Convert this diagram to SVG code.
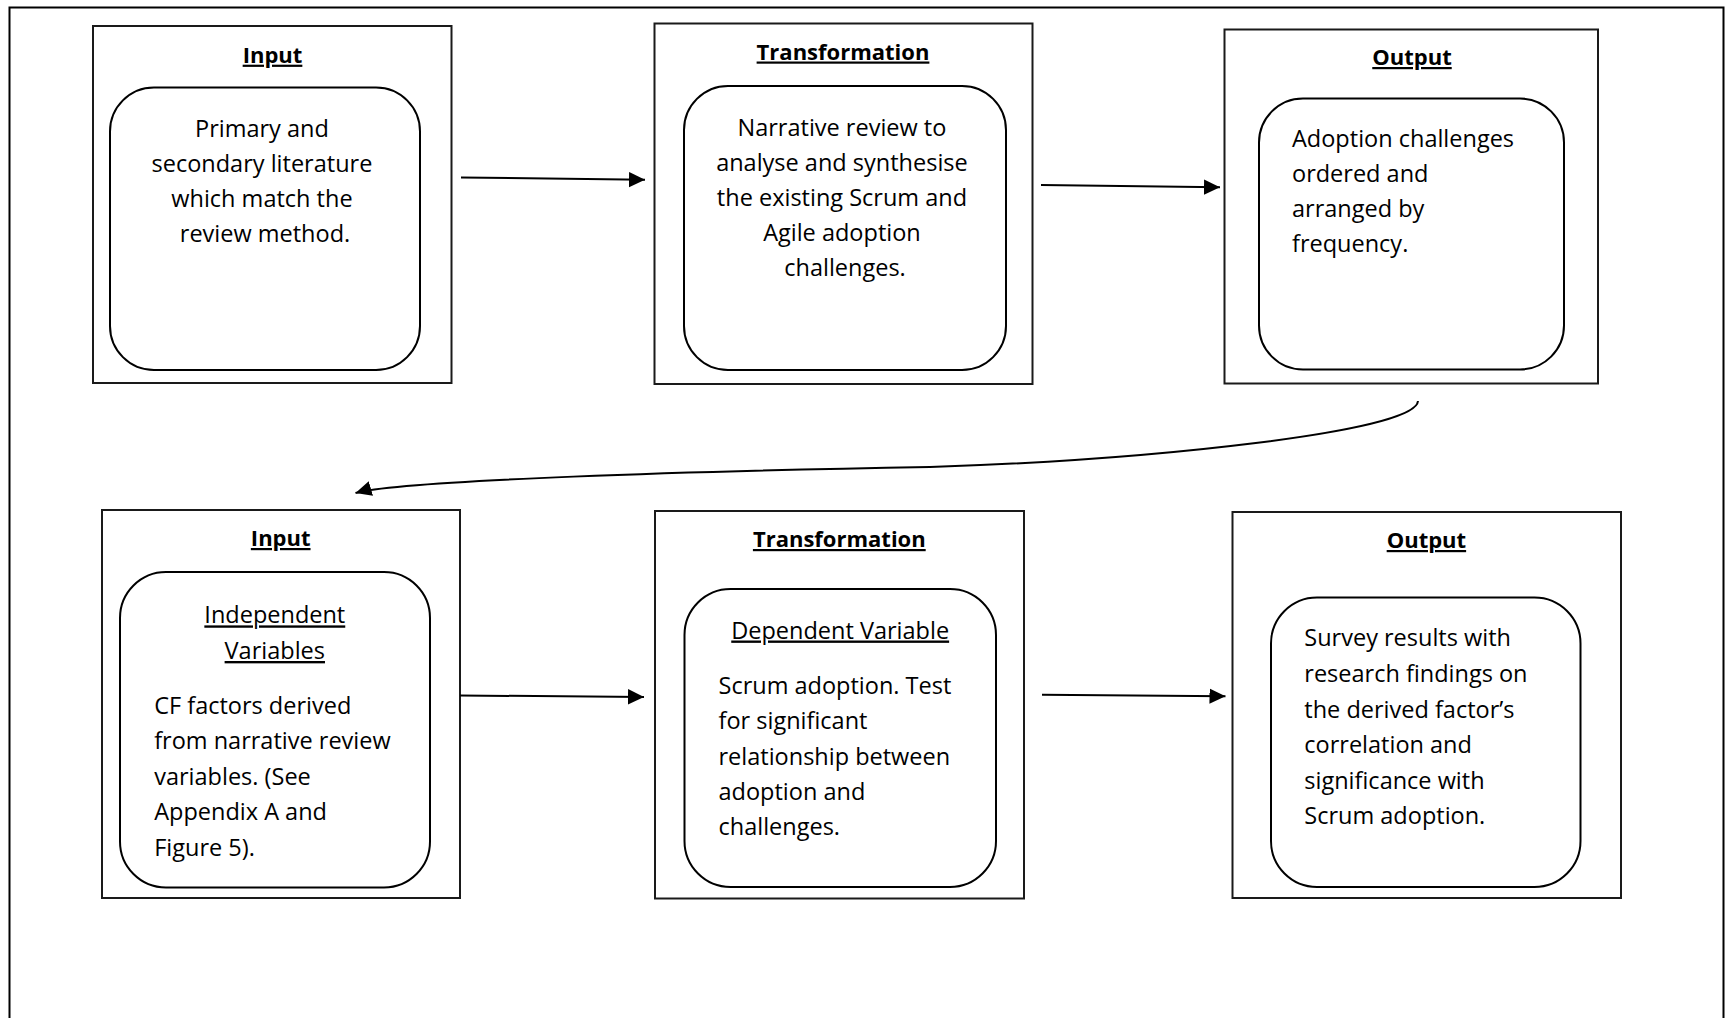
<svg xmlns="http://www.w3.org/2000/svg" width="1726" height="1018" viewBox="0 0 1726 1018">
  <defs>
    <marker id="arrow" markerUnits="userSpaceOnUse" markerWidth="16" markerHeight="16" viewBox="0 0 14 13.4" refX="14" refY="6.7" orient="auto">
      <path d="M0,0 L14,6.7 L0,13.4 Z" fill="#000"/>
    </marker>
    <style>
      .frame { fill: none; stroke: #000; stroke-width: 2; }
      .box { fill: #fff; stroke: #1a1a1a; stroke-width: 2; }
      .inner { fill: #fff; stroke: #000; stroke-width: 2; }
      .title { font-family: "Open Sans", "Liberation Sans", sans-serif; font-weight: bold; font-size: 22px; text-anchor: middle; text-decoration: underline; fill: #000; }
      .body { font-family: "Open Sans", "Liberation Sans", sans-serif; font-size: 23.5px; fill: #000; }
      .mid { text-anchor: middle; }
      .ul { text-decoration: underline; }
      .link { fill: none; stroke: #000; stroke-width: 2; }
    </style>
  </defs>

  <rect width="1726" height="1018" fill="#fff"/>

  <!-- outer frame, open at the bottom edge of the page -->
  <path class="frame" d="M9.5,1020 V7.5 H1723.5 V1020"/>

  <!-- first cycle: literature review -->
  <g id="input-review">
    <rect class="box" x="93" y="26" width="358.5" height="357"/>
    <text class="title" x="272.5" y="62.7">Input</text>
    <rect class="inner" x="110" y="87.5" width="310" height="282.5" rx="44" ry="44"/>
    <text class="body mid">
      <tspan x="265" y="136.7">Primary and</tspan>
      <tspan x="265" y="171.7">secondary literature</tspan>
      <tspan x="265" y="206.7">which match the</tspan>
      <tspan x="265" y="241.7">review method.</tspan>
    </text>
  </g>

  <g id="transformation-review">
    <rect class="box" x="654.5" y="23.5" width="378" height="360.5"/>
    <text class="title" x="843" y="59.5">Transformation</text>
    <rect class="inner" x="684" y="86" width="322" height="284" rx="44" ry="44"/>
    <text class="body mid">
      <tspan x="845" y="136">Narrative review to</tspan>
      <tspan x="845" y="171">analyse and synthesise</tspan>
      <tspan x="845" y="206">the existing Scrum and</tspan>
      <tspan x="845" y="241">Agile adoption</tspan>
      <tspan x="845" y="276">challenges.</tspan>
    </text>
  </g>

  <g id="output-review">
    <rect class="box" x="1224.5" y="29.5" width="373.5" height="354"/>
    <text class="title" x="1412" y="65">Output</text>
    <rect class="inner" x="1259" y="98.5" width="305" height="271" rx="44" ry="44"/>
    <text class="body">
      <tspan x="1292" y="146.7">Adoption challenges</tspan>
      <tspan x="1292" y="181.7">ordered and</tspan>
      <tspan x="1292" y="216.7">arranged by</tspan>
      <tspan x="1292" y="251.7">frequency.</tspan>
    </text>
  </g>

  <!-- second cycle: survey -->
  <g id="input-survey">
    <rect class="box" x="102" y="510" width="358" height="388"/>
    <text class="title" x="280.7" y="546">Input</text>
    <rect class="inner" x="120" y="572" width="310" height="315.5" rx="46" ry="46"/>
    <text class="body mid ul" x="274.8" y="623.4">Independent</text>
    <text class="body mid ul" x="274.8" y="659">Variables</text>
    <text class="body">
      <tspan x="154.2" y="714">CF factors derived</tspan>
      <tspan x="154.2" y="749.4">from narrative review</tspan>
      <tspan x="154.2" y="784.7">variables. (See</tspan>
      <tspan x="154.2" y="819.7">Appendix A and</tspan>
      <tspan x="154.2" y="855.5">Figure 5).</tspan>
    </text>
  </g>

  <g id="transformation-survey">
    <rect class="box" x="655" y="511" width="369" height="387.5"/>
    <text class="title" x="839.3" y="547">Transformation</text>
    <rect class="inner" x="684.5" y="589" width="311.5" height="298" rx="46" ry="46"/>
    <text class="body mid ul" x="840.2" y="638.5">Dependent Variable</text>
    <text class="body">
      <tspan x="718.5" y="693.5">Scrum adoption. Test</tspan>
      <tspan x="718.5" y="728.8">for significant</tspan>
      <tspan x="718.5" y="764.5">relationship between</tspan>
      <tspan x="718.5" y="799.8">adoption and</tspan>
      <tspan x="718.5" y="835">challenges.</tspan>
    </text>
  </g>

  <g id="output-survey">
    <rect class="box" x="1232.5" y="512" width="388.5" height="386"/>
    <text class="title" x="1426.4" y="548">Output</text>
    <rect class="inner" x="1271" y="597.5" width="309.5" height="289.5" rx="46" ry="46"/>
    <text class="body">
      <tspan x="1304.3" y="646.4">Survey results with</tspan>
      <tspan x="1304.3" y="682">research findings on</tspan>
      <tspan x="1304.3" y="717.5">the derived factor’s</tspan>
      <tspan x="1304.3" y="753">correlation and</tspan>
      <tspan x="1304.3" y="788.6">significance with</tspan>
      <tspan x="1304.3" y="824">Scrum adoption.</tspan>
    </text>
  </g>

  <!-- connectors -->
  <g id="connectors">
    <path class="link" d="M461,177.5 L645,179.8" marker-end="url(#arrow)"/>
    <path class="link" d="M1041,185 L1220,187.3" marker-end="url(#arrow)"/>
    <path class="link" d="M1418,401 C1416,432 1150,460 930,467 C700,471 400,480 355.5,493" marker-end="url(#arrow)"/>
    <path class="link" d="M460,695.5 L644,696.9" marker-end="url(#arrow)"/>
    <path class="link" d="M1042,694.8 L1225.5,696.2" marker-end="url(#arrow)"/>
  </g>
</svg>
